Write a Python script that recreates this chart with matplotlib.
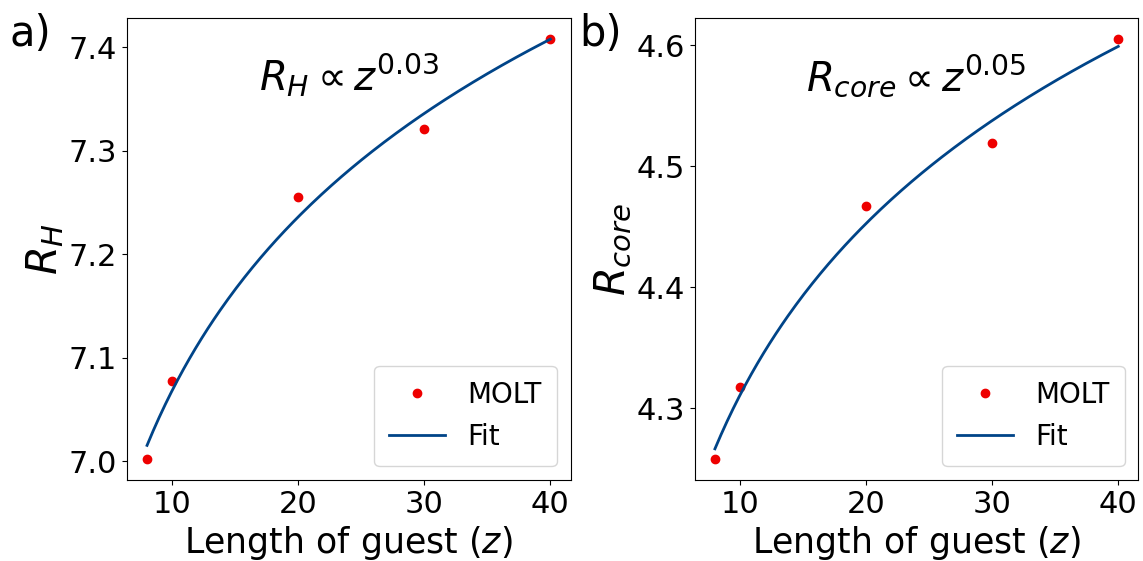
import numpy as np
import matplotlib
matplotlib.use("Agg")
import matplotlib.pyplot as plt

# guest length and MOLT results
z = [8, 10, 20, 30, 40]
r_h = [7.002, 7.078, 7.255, 7.321, 7.408]
r_core = [4.258, 4.318, 4.467, 4.519, 4.605]

exps = ["0.03", "0.05"]
ylabels = [r"$R_H$", r"$R_{core}$"]
panel = ["a)", "b)"]

fig, axes = plt.subplots(1, 2, figsize=(11.43, 5.61), dpi=100)
plt.subplots_adjust(left=0.111, right=0.996, bottom=0.144, top=0.968, wspace=0.28)

zz = np.linspace(8, 40, 200)
for i, (ax, r) in enumerate(zip(axes, [r_h, r_core])):
    # power law fit in log-log space
    b, a = np.polyfit(np.log(z), np.log(r), 1)
    ax.plot(z, r, "o", color="#ee0000", ms=6, label="MOLT")
    ax.plot(zz, np.exp(a) * zz**b, color="#004488", lw=2, label="Fit")
    ax.set_xlabel(r"Length of guest ($z$)", fontsize=25)
    ax.set_ylabel(ylabels[i], fontsize=30, labelpad=2)
    ax.tick_params(labelsize=22)
    ax.set_xticks([10, 20, 30, 40])
    name = ylabels[i].strip("$")
    ax.text(0.5, 0.875, r"$%s \propto z^{%s}$" % (name, exps[i]),
            transform=ax.transAxes, ha="center", va="center", fontsize=29)
    ax.legend(loc="lower right", fontsize=20, borderpad=0.55)

axes[0].set_yticks([7.0, 7.1, 7.2, 7.3, 7.4])
axes[1].set_yticks([4.3, 4.4, 4.5, 4.6])

fig.text(0.008, 0.94, panel[0], fontsize=30, va="center")
fig.text(0.507, 0.94, panel[1], fontsize=30, va="center")

plt.savefig("out.png")
